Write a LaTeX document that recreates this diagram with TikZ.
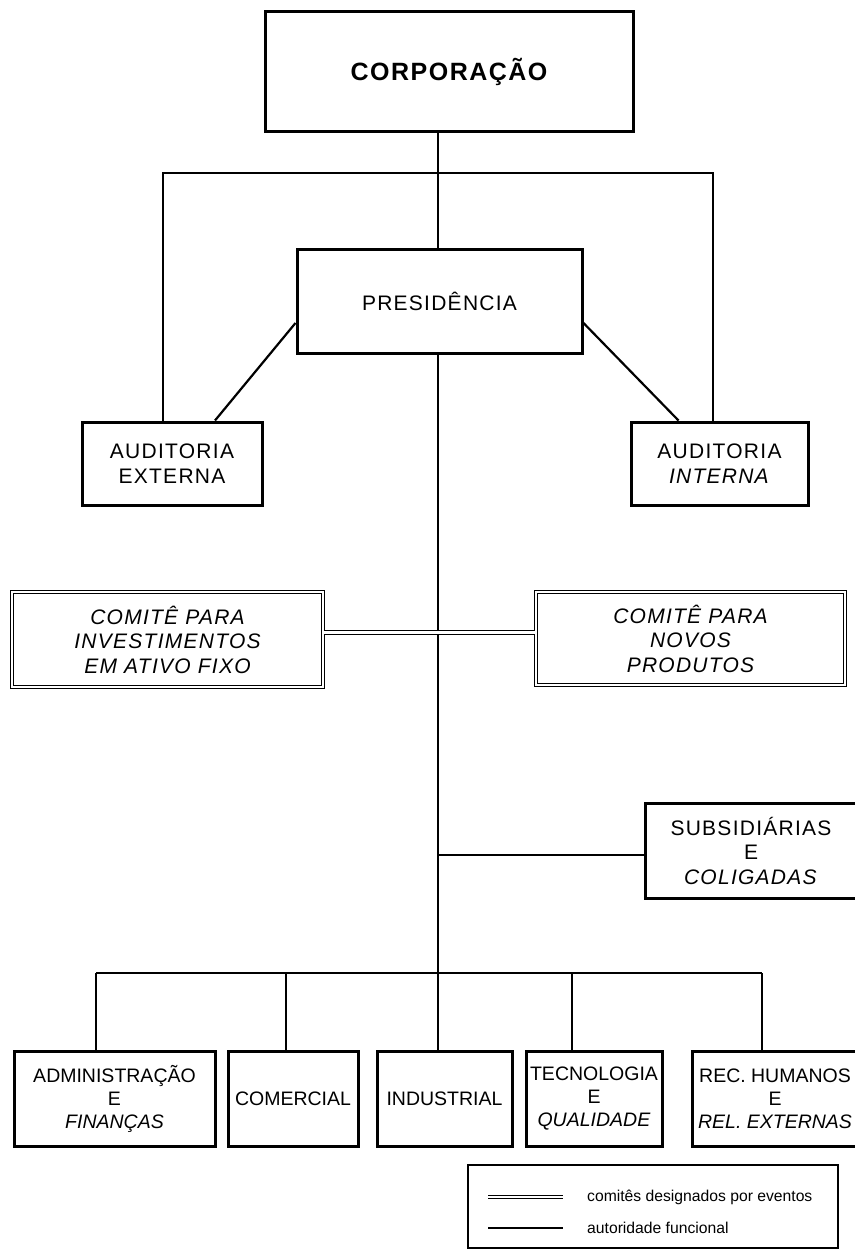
\documentclass[tikz,border=0pt]{standalone}
\usepackage{fontspec}
\setmainfont{Liberation Sans}
\newfontfamily\spacedfont{Liberation Sans}[LetterSpace=6]
\usetikzlibrary{positioning,calc}

\begin{document}
\begin{tikzpicture}[x=1pt, y=-1pt,
    orgbox/.style={draw, line width=3pt, inner sep=0pt, align=center,
      font=\spacedfont\fontsize{21}{24.5}\selectfont},
    unitbox/.style={draw, line width=3pt, inner sep=0pt, align=center,
      minimum height=95pt, font=\fontsize{19.5}{23}\selectfont},
    comitebox/.style={draw, line width=1.3pt, double, double distance=2pt,
      inner sep=0pt, align=center, font=\spacedfont\fontsize{21}{24.5}\selectfont\itshape},
    link/.style={line width=2.8pt},
    diag/.style={line width=2.2pt},
    eventlink/.style={line width=1.2pt, double, double distance=2.2pt},
    keytext/.style={anchor=west, inner sep=0pt, font=\fontsize{15.7}{18}\selectfont}]

  \useasboundingbox (0,0) rectangle (854,1249);

  % Corporation
  \node[orgbox, minimum width=368pt, minimum height=120pt,
    font=\spacedfont\bfseries\fontsize{25}{28}\selectfont] (corp) at (449,72) {CORPORAÇÃO};

  % Presidency
  \node[orgbox, minimum width=285pt, minimum height=103pt] (pres) at (439.5,301.5) {PRESIDÊNCIA};

  % Audits
  \node[orgbox, minimum width=180pt, minimum height=83pt] (audext) at (172,463.5) {AUDITORIA\\EXTERNA};
  \node[orgbox, minimum width=177pt, minimum height=83pt] (audint) at (719.5,463.5) {AUDITORIA\\\textit{INTERNA}};

  % Committees
  \node[comitebox, minimum width=311pt, minimum height=95pt] (cominv) at (167.5,639.5) {COMITÊ PARA\\INVESTIMENTOS\\EM ATIVO FIXO};
  \node[comitebox, minimum width=309pt, minimum height=93pt] (comnov) at (690.5,638.5) {COMITÊ PARA\\NOVOS\\PRODUTOS};

  % Subsidiaries
  \node[orgbox, minimum width=212pt, minimum height=95pt] (subs) at (751,850.5) {SUBSIDIÁRIAS\\E\\\textit{COLIGADAS}};

  % Departments
  \node[unitbox, minimum width=201pt] (adm) at (114.5,1099) {ADMINISTRAÇÃO\\E\\\textit{FINANÇAS}};
  \node[unitbox, minimum width=130pt] (com) at (293,1099) {COMERCIAL};
  \node[unitbox, minimum width=135pt] (ind) at (444.5,1099) {INDUSTRIAL};
  \node[unitbox, minimum width=136pt] (tec) at (594,1099) {TECNOLOGIA\\E\\\textit{QUALIDADE}};
  \node[unitbox, minimum width=166pt] (rec) at (775,1099) {REC. HUMANOS\\E\\\textit{REL. EXTERNAS}};

  % Top connectors
  \coordinate (topbus) at (438,173);
  \coordinate (busL) at (163,173);
  \coordinate (busR) at (713,173);
  \draw[link] (topbus |- corp.south) -- (topbus |- pres.north);
  \draw[link] (busL |- audext.north) -- (busL) -- (busR) -- (busR |- audint.north);
  \draw[diag] ([yshift=-21.5pt]pres.west) -- ([xshift=43pt]audext.north);
  \draw[diag] ([yshift=-21.5pt]pres.east) -- ([xshift=-41pt]audint.north);

  % Spine
  \coordinate (spine) at (438,973);
  \coordinate (subsin) at ([yshift=-4.5pt]subs.west);
  \draw[link] (spine |- pres.south) -- (spine);
  \draw[eventlink] ([yshift=7pt]cominv.east) -- ([yshift=6pt]comnov.west);
  \draw[link] (spine |- subsin) -- (subsin);

  % Bottom bus
  \coordinate (busA) at (96,973);
  \coordinate (busB) at (286,973);
  \coordinate (busD) at (572,973);
  \coordinate (busE) at (762,973);
  \draw[link] (busA) -- (busE);
  \foreach \c/\n in {busA/adm, busB/com, spine/ind, busD/tec, busE/rec}
    \draw[link] (\c) -- (\c |- \n.north);

  % Legend
  \node[draw, line width=2pt, minimum width=370pt, minimum height=83pt, inner sep=0pt] (legend) at (653,1206.5) {};
  \coordinate (keyA) at (488,1197);
  \coordinate (keyB) at (563,1197);
  \coordinate (keyC) at (488,1228);
  \coordinate (keyD) at (563,1228);
  \draw[eventlink, line width=1pt, double distance=2pt] (keyA) -- (keyB);
  \draw[line width=2pt] (keyC) -- (keyD);
  \node[keytext] (keyevent) at (587,1197) {comitês designados por eventos};
  \node[keytext] (keyfunc) at (587,1228) {autoridade funcional};
\end{tikzpicture}
\end{document}
